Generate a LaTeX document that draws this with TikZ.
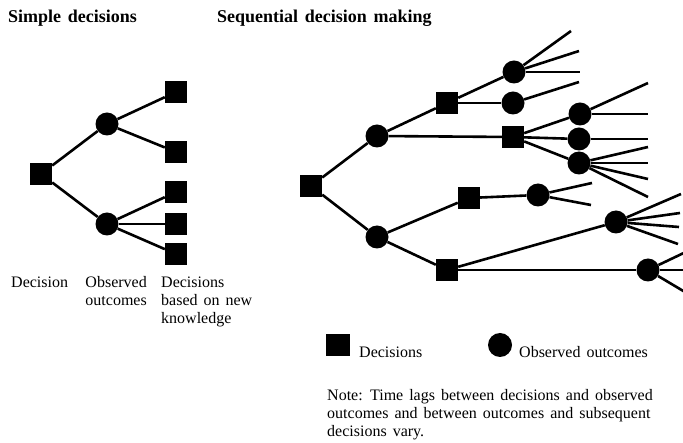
\documentclass[tikz,border=0pt]{standalone}
\usepackage{fontspec}
\setmainfont{Liberation Serif}[WordSpace=1.5]
\begin{document}
\begin{tikzpicture}[x=1pt,y=-1pt,
  dec/.style={rectangle,fill=black,draw=none,minimum size=22pt,inner sep=0pt},
  obs/.style={circle,fill=black,draw=none,minimum size=23pt,inner sep=0pt},
  link/.style={line width=2.6pt},
  lbl/.style={font=\fontsize{16}{18}\selectfont,inner sep=0pt,anchor=base west},
  lblr/.style={lbl,anchor=base east},
  ttl/.style={font=\fontsize{18}{20}\selectfont\bfseries,inner sep=0pt,anchor=base west}]
\useasboundingbox (0,0) rectangle (683,443);
\begin{scope}
\clip (0,0) rectangle (683,443);

% titles
\node[ttl] (t1) at (8,23) {Simple decisions};
\node[ttl] (t2) at (217,23) {Sequential decision making};

% ---- simple decision tree ----
\node[dec] (s0) at (41,174) {};
\node[obs] (s1) at (107,124) {};
\node[obs] (s2) at (107,224) {};
\node[dec] (s3) at (176,92) {};
\node[dec] (s4) at (176,152) {};
\node[dec] (s5) at (176,192) {};
\node[dec] (s6) at (176,224) {};
\node[dec] (s7) at (176,254) {};
\draw[link] (s0) -- (s1);
\draw[link] (s0) -- (s2);
\draw[link] (s1) -- (s3);
\draw[link] (s1) -- (s4);
\draw[link] (s2) -- (s5);
\draw[link] (s2) -- (s6);
\draw[link] (s2) -- (s7);

\node[lbl] (c1) at (11,288) {Decision};
\node[lblr] (c2a) at (147,288) {Observed};
\node[lblr] (c2b) at (147,306) {outcomes};
\node[lbl] (c3a) at (161,288) {Decisions};
\node[lbl] (c3b) at (161,306) {based on new};
\node[lbl] (c3c) at (161,324) {knowledge};

% ---- sequential decision tree ----
\node[dec] (r0) at (311,186) {};
\node[obs] (a) at (377,136) {};
\node[obs] (b) at (377,237) {};
\node[dec] (c) at (447,103) {};
\node[dec] (d) at (513,137) {};
\node[dec] (e) at (469,198) {};
\node[dec] (f) at (447,270) {};
\node[obs] (g) at (514,72) {};
\node[obs] (h) at (513,103) {};
\node[obs] (i) at (580,114) {};
\node[obs] (j) at (579,139) {};
\node[obs] (k) at (579,163) {};
\node[obs] (l) at (538,195) {};
\node[obs] (m) at (616,222) {};
\node[obs] (n) at (648,270) {};

\draw[link] (r0) -- (a);
\draw[link] (r0) -- (b);
\draw[link] (a) -- (c);
\draw[link] (a) -- (d);
\draw[link] (b) -- (e);
\draw[link] (b) -- (f);
\draw[link] (c) -- (g);
\draw[link] (c) -- (h);
\draw[link] (d) -- (i);
\draw[link] (d) -- (j);
\draw[link] (d) -- (k);
\draw[link] (e) -- (l);
\draw[link] (f) -- (m);
\draw[link] (f) -- (n);

% open branches
\coordinate (g1) at (571,31);
\coordinate (g2) at (579,51);
\coordinate (g3) at (580,72);
\coordinate (h1) at (579,82);
\coordinate (i1) at (648,83);
\coordinate (i2) at (648,114);
\coordinate (j1) at (648,139);
\coordinate (k1) at (648,147);
\coordinate (k2) at (648,163);
\coordinate (k3) at (648,179);
\coordinate (k4) at (648,197);
\coordinate (l1) at (592,183);
\coordinate (l2) at (591,205);
\coordinate (m1) at (681,194);
\coordinate (m2) at (680,213);
\coordinate (m3) at (679,227);
\coordinate (m4) at (678,244);
\coordinate (n1) at (690,250);
\coordinate (n2) at (690,270);
\coordinate (n3) at (690,295);
\foreach \p/\q in {g/g1,g/g2,g/g3,h/h1,i/i1,i/i2,j/j1,k/k1,k/k2,k/k3,k/k4,
                   l/l1,l/l2,m/m1,m/m2,m/m3,m/m4,n/n1,n/n2,n/n3}
  \draw[link] (\p) -- (\q);

% legend
\node[dec,minimum width=24pt] (kd) at (338,345) {};
\node[lbl] (kdt) at (359,358) {Decisions};
\node[obs,minimum size=24pt] (ko) at (500,345) {};
\node[lbl] (kot) at (519,358) {Observed outcomes};

% note
\node[lbl] (n1t) at (327,401) {Note: Time lags between decisions and observed};
\node[lbl] (n2t) at (327,419) {outcomes and between outcomes and subsequent};
\node[lbl] (n3t) at (327,437) {decisions vary.};
\end{scope}
\end{tikzpicture}
\end{document}
